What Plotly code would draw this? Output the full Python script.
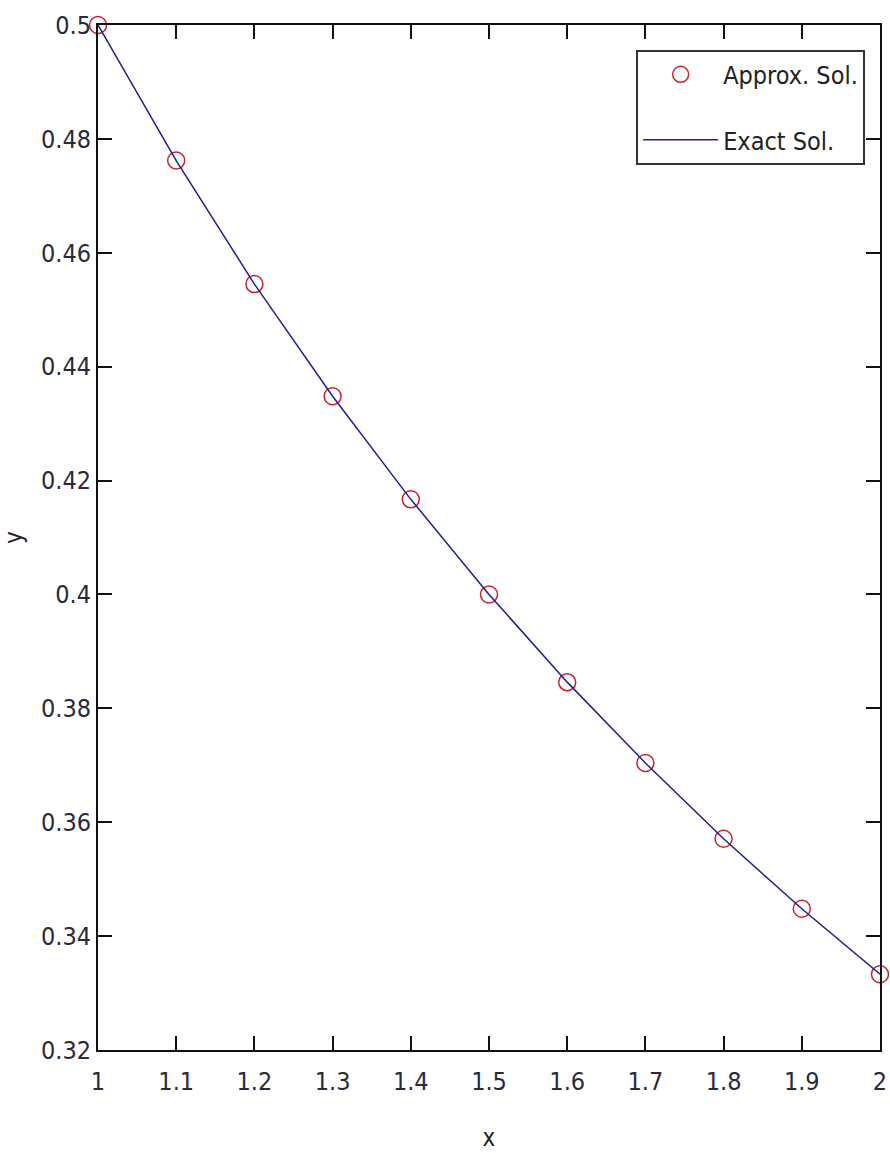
import plotly.graph_objects as go

x_vals = [1.0, 1.1, 1.2, 1.3, 1.4, 1.5, 1.6, 1.7, 1.8, 1.9, 2.0]
approx_y = [0.5000, 0.4762, 0.4545, 0.4348, 0.4167, 0.4000, 0.3846, 0.3704, 0.3571, 0.3448, 0.3333]
exact_y = [0.5000, 0.4762, 0.4545, 0.4348, 0.4167, 0.4000, 0.3846, 0.3704, 0.3571, 0.3448, 0.3333]

x_ticks = [1, 1.1, 1.2, 1.3, 1.4, 1.5, 1.6, 1.7, 1.8, 1.9, 2]
x_tick_text = ["1", "1.1", "1.2", "1.3", "1.4", "1.5", "1.6", "1.7", "1.8", "1.9", "2"]
y_ticks = [0.32, 0.34, 0.36, 0.38, 0.40, 0.42, 0.44, 0.46, 0.48, 0.50]
y_tick_text = ["0.32", "0.34", "0.36", "0.38", "0.4", "0.42", "0.44", "0.46", "0.48", "0.5"]

FONT = "DejaVu Sans Condensed, Liberation Sans Narrow, sans-serif"

fig = go.Figure()
fig.add_trace(go.Scatter(
    x=x_vals, y=approx_y, mode="markers", name="Approx. Sol.",
    legendgroup="a",
    marker=dict(symbol="circle-open", size=17, color="#cc2030", line=dict(width=1.5, color="#cc2030")),
    cliponaxis=False,
))
fig.add_trace(go.Scatter(
    x=x_vals, y=exact_y, mode="lines", name="Exact Sol.",
    legendgroup="b",
    line=dict(color="#20208c", width=1.5),
    cliponaxis=False,
))

axis_common = dict(
    showgrid=False, zeroline=False, showline=True, linecolor="#111111", linewidth=2,
    mirror="allticks", ticks="inside", ticklen=14, tickwidth=1.5, tickcolor="#111111",
    tickfont=dict(family=FONT, size=25, color="#2a2a3a"),
    automargin=False,
)

fig.update_xaxes(range=[1, 2], tickvals=x_ticks, ticktext=x_tick_text,
                 ticklabelstandoff=8,
                 title=dict(text="x", font=dict(family=FONT, size=24, color="#222222"), standoff=34),
                 **axis_common)
fig.update_yaxes(range=[0.32, 0.50], tickvals=y_ticks, ticktext=y_tick_text,
                 title=dict(text="y", font=dict(family=FONT, size=24, color="#222222"), standoff=20),
                 **axis_common)

fig.update_layout(
    width=890, height=1153,
    margin=dict(l=98, r=10, t=25, b=103),
    plot_bgcolor="white", paper_bgcolor="white",
    font=dict(family=FONT, color="#222222"),
    legend=dict(
        x=0.981, y=0.976, xanchor="right", yanchor="top",
        bgcolor="white", bordercolor="#333333", borderwidth=2,
        font=dict(family=FONT, size=25, color="#222222"),
        itemwidth=75, traceorder="grouped", tracegroupgap=30,
    ),
    showlegend=True,
)

fig.write_html("out.html")
